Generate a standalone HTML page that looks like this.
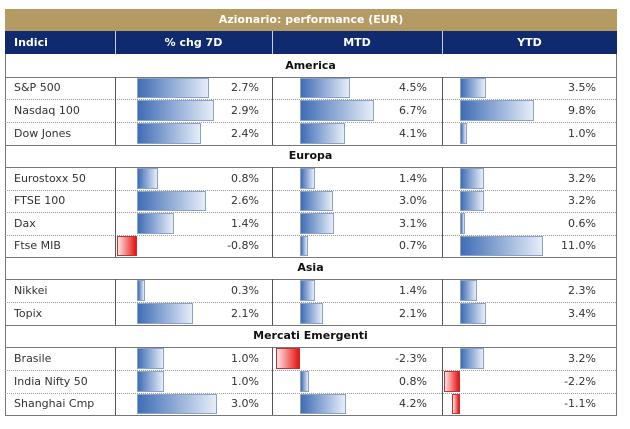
<!DOCTYPE html>
<html><head><meta charset="utf-8"><style>
body{margin:0;width:630px;height:429px;background:#fff;position:relative;font-family:"DejaVu Sans","Liberation Sans",sans-serif;overflow:hidden}
div{position:absolute;box-sizing:border-box}
.t{font-size:11px;color:#333;line-height:22px}
.n{left:14px}
.v{text-align:right}
.c1{left:115px;width:144px}.c2{left:272px;width:155px}.c3{left:442px;width:154px}
.sec{left:5px;width:611px;text-align:center;font-weight:bold;font-size:11px;color:#111;line-height:22px}
.b{background:linear-gradient(to right,#3f6db5,#e6edf8);border:1px solid #8aa2c8}
.r{background:linear-gradient(to right,#fde4e4,#e81010);border:1px solid #b33}
.hl{left:5px;width:611px;height:0;border-top:1px dotted #999}
.sl{left:5px;width:611px;height:0;border-top:1px solid #777}
.vl{width:0;border-left:1px solid #555}
.zl{width:0;border-left:1px dotted #888}
</style></head><body>
<div style="left:5px;top:9px;width:612px;height:407px;border:1px solid #777"></div>
<div style="left:5px;top:9px;width:612px;height:22px;background:#b39b63;color:#fff;font-weight:bold;font-size:11px;text-align:center;line-height:22px">Azionario: performance (EUR)</div>
<div style="left:5px;top:31px;width:612px;height:23px;background:#0f2a6e"></div>
<div style="left:14px;top:31px;color:#fff;font-weight:bold;font-size:11px;line-height:23px">Indici</div>
<div style="left:115px;top:31px;width:157px;color:#fff;font-weight:bold;font-size:11px;line-height:23px;text-align:center">% chg 7D</div>
<div style="left:272px;top:31px;width:170px;color:#fff;font-weight:bold;font-size:11px;line-height:23px;text-align:center">MTD</div>
<div style="left:442px;top:31px;width:175px;color:#fff;font-weight:bold;font-size:11px;line-height:23px;text-align:center">YTD</div>
<div style="left:115px;top:31px;width:0;height:23px;border-left:1px solid #ccd"></div>
<div style="left:272px;top:31px;width:0;height:23px;border-left:1px solid #ccd"></div>
<div style="left:442px;top:31px;width:0;height:23px;border-left:1px solid #ccd"></div>

<!-- section lines -->
<div class="sl" style="top:77px"></div><div class="sl" style="top:145px"></div><div class="sl" style="top:167px"></div>
<div class="sl" style="top:257px"></div><div class="sl" style="top:279px"></div><div class="sl" style="top:325px"></div><div class="sl" style="top:347px"></div>
<div class="hl" style="top:99px"></div><div class="hl" style="top:122px"></div>
<div class="hl" style="top:190px"></div><div class="hl" style="top:212px"></div><div class="hl" style="top:235px"></div>
<div class="hl" style="top:302px"></div><div class="hl" style="top:370px"></div><div class="hl" style="top:393px"></div>

<div class="sec" style="top:55px">America</div>
<div class="sec" style="top:145px">Europa</div>
<div class="sec" style="top:257px">Asia</div>
<div class="sec" style="top:325px">Mercati Emergenti</div>

<!-- vertical lines per block -->
<div class="vl" style="left:115px;top:77px;height:68px"></div><div class="vl" style="left:272px;top:77px;height:68px"></div><div class="vl" style="left:442px;top:77px;height:68px"></div>
<div class="vl" style="left:115px;top:167px;height:90px"></div><div class="vl" style="left:272px;top:167px;height:90px"></div><div class="vl" style="left:442px;top:167px;height:90px"></div>
<div class="vl" style="left:115px;top:279px;height:46px"></div><div class="vl" style="left:272px;top:279px;height:46px"></div><div class="vl" style="left:442px;top:279px;height:46px"></div>
<div class="vl" style="left:115px;top:347px;height:68px"></div><div class="vl" style="left:272px;top:347px;height:68px"></div><div class="vl" style="left:442px;top:347px;height:68px"></div>

<!-- bars -->
<div class="b" style="left:137px;top:78px;width:72px;height:20px"></div><div class="b" style="left:300px;top:78px;width:50px;height:20px"></div><div class="b" style="left:460px;top:78px;width:26px;height:20px"></div>
<div class="b" style="left:137px;top:100px;width:77px;height:21px"></div><div class="b" style="left:300px;top:100px;width:74px;height:21px"></div><div class="b" style="left:460px;top:100px;width:74px;height:21px"></div>
<div class="b" style="left:137px;top:123px;width:64px;height:21px"></div><div class="b" style="left:300px;top:123px;width:45px;height:21px"></div><div class="b" style="left:460px;top:123px;width:7px;height:21px"></div>
<div class="b" style="left:137px;top:168px;width:21px;height:21px"></div><div class="b" style="left:300px;top:168px;width:15px;height:21px"></div><div class="b" style="left:460px;top:168px;width:24px;height:21px"></div>
<div class="b" style="left:137px;top:191px;width:69px;height:20px"></div><div class="b" style="left:300px;top:191px;width:33px;height:20px"></div><div class="b" style="left:460px;top:191px;width:24px;height:20px"></div>
<div class="b" style="left:137px;top:213px;width:37px;height:21px"></div><div class="b" style="left:300px;top:213px;width:34px;height:21px"></div><div class="b" style="left:460px;top:213px;width:5px;height:21px"></div>
<div class="r" style="left:117px;top:236px;width:20px;height:20px"></div><div class="b" style="left:300px;top:236px;width:8px;height:20px"></div><div class="b" style="left:460px;top:236px;width:83px;height:20px"></div>
<div class="b" style="left:137px;top:280px;width:8px;height:21px"></div><div class="b" style="left:300px;top:280px;width:15px;height:21px"></div><div class="b" style="left:460px;top:280px;width:17px;height:21px"></div>
<div class="b" style="left:137px;top:303px;width:56px;height:21px"></div><div class="b" style="left:300px;top:303px;width:23px;height:21px"></div><div class="b" style="left:460px;top:303px;width:26px;height:21px"></div>
<div class="b" style="left:137px;top:348px;width:27px;height:21px"></div><div class="r" style="left:276px;top:348px;width:24px;height:21px"></div><div class="b" style="left:460px;top:348px;width:24px;height:21px"></div>
<div class="b" style="left:137px;top:371px;width:27px;height:21px"></div><div class="b" style="left:300px;top:371px;width:9px;height:21px"></div><div class="r" style="left:444px;top:371px;width:16px;height:21px"></div>
<div class="b" style="left:137px;top:394px;width:80px;height:20px"></div><div class="b" style="left:300px;top:394px;width:46px;height:20px"></div><div class="r" style="left:452px;top:394px;width:8px;height:20px"></div>

<!-- text -->
<div class="t n" style="top:77px">S&amp;P 500</div><div class="t v c1" style="top:77px">2.7%</div><div class="t v c2" style="top:77px">4.5%</div><div class="t v c3" style="top:77px">3.5%</div>
<div class="t n" style="top:100px">Nasdaq 100</div><div class="t v c1" style="top:100px">2.9%</div><div class="t v c2" style="top:100px">6.7%</div><div class="t v c3" style="top:100px">9.8%</div>
<div class="t n" style="top:123px">Dow Jones</div><div class="t v c1" style="top:123px">2.4%</div><div class="t v c2" style="top:123px">4.1%</div><div class="t v c3" style="top:123px">1.0%</div>
<div class="t n" style="top:168px">Eurostoxx 50</div><div class="t v c1" style="top:168px">0.8%</div><div class="t v c2" style="top:168px">1.4%</div><div class="t v c3" style="top:168px">3.2%</div>
<div class="t n" style="top:190px">FTSE 100</div><div class="t v c1" style="top:190px">2.6%</div><div class="t v c2" style="top:190px">3.0%</div><div class="t v c3" style="top:190px">3.2%</div>
<div class="t n" style="top:213px">Dax</div><div class="t v c1" style="top:213px">1.4%</div><div class="t v c2" style="top:213px">3.1%</div><div class="t v c3" style="top:213px">0.6%</div>
<div class="t n" style="top:235px">Ftse MIB</div><div class="t v c1" style="top:235px">-0.8%</div><div class="t v c2" style="top:235px">0.7%</div><div class="t v c3" style="top:235px">11.0%</div>
<div class="t n" style="top:280px">Nikkei</div><div class="t v c1" style="top:280px">0.3%</div><div class="t v c2" style="top:280px">1.4%</div><div class="t v c3" style="top:280px">2.3%</div>
<div class="t n" style="top:303px">Topix</div><div class="t v c1" style="top:303px">2.1%</div><div class="t v c2" style="top:303px">2.1%</div><div class="t v c3" style="top:303px">3.4%</div>
<div class="t n" style="top:348px">Brasile</div><div class="t v c1" style="top:348px">1.0%</div><div class="t v c2" style="top:348px">-2.3%</div><div class="t v c3" style="top:348px">3.2%</div>
<div class="t n" style="top:371px">India Nifty 50</div><div class="t v c1" style="top:371px">1.0%</div><div class="t v c2" style="top:371px">0.8%</div><div class="t v c3" style="top:371px">-2.2%</div>
<div class="t n" style="top:393px">Shanghai Cmp</div><div class="t v c1" style="top:393px">3.0%</div><div class="t v c2" style="top:393px">4.2%</div><div class="t v c3" style="top:393px">-1.1%</div>
</body></html>
